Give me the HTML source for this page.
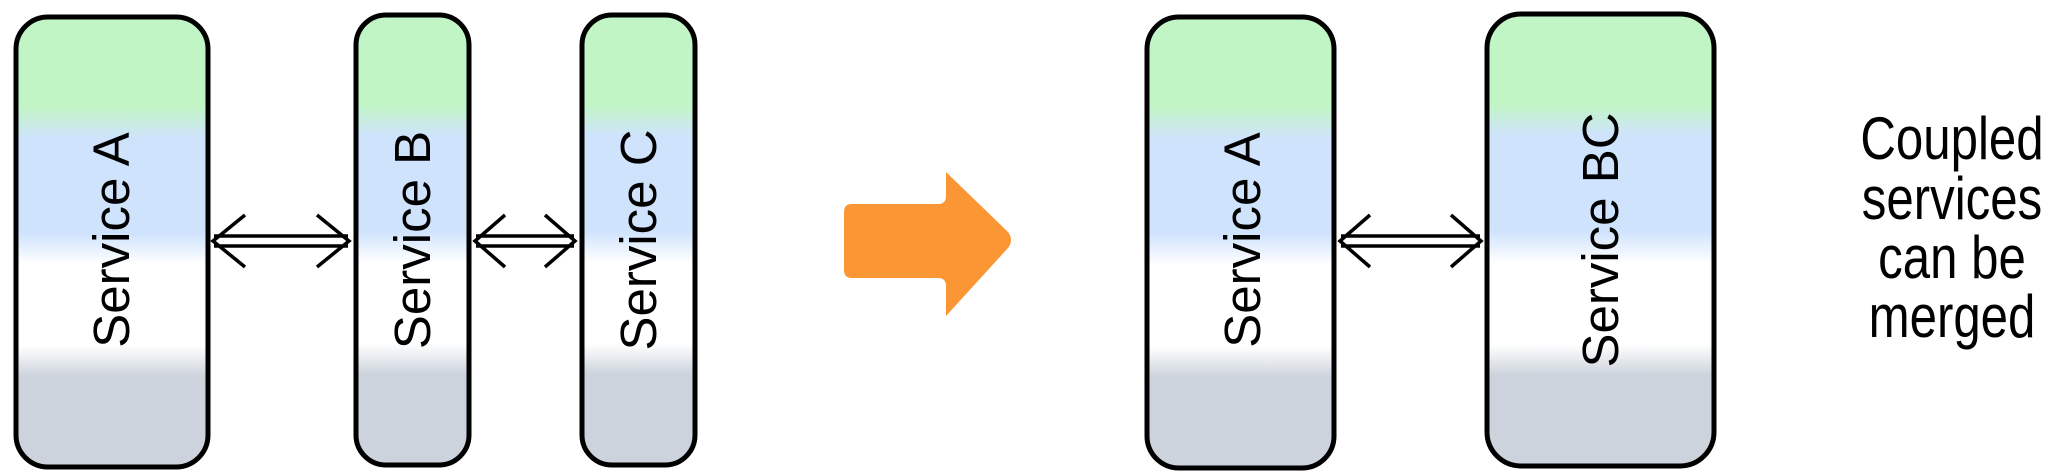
<!DOCTYPE html>
<html><head><style>body{margin:0;background:#fff}svg{display:block}</style></head><body>
<svg width="2057" height="476" viewBox="0 0 2057 476" xmlns="http://www.w3.org/2000/svg">
<defs>
<linearGradient id="g" x1="0" y1="0" x2="0" y2="1">
<stop offset="0" stop-color="#c2f5c6"/><stop offset="0.2" stop-color="#c2f5c6"/>
<stop offset="0.27" stop-color="#cfe3fd"/><stop offset="0.48" stop-color="#cfe3fd"/>
<stop offset="0.55" stop-color="#ffffff"/><stop offset="0.73" stop-color="#ffffff"/>
<stop offset="0.8" stop-color="#ccd3dc"/><stop offset="1" stop-color="#ccd3dc"/>
</linearGradient>
</defs>
<g stroke="#000" stroke-width="5" fill="url(#g)">
<rect x="16" y="17" width="192" height="450" rx="32"/>
<rect x="356" y="15" width="113" height="450" rx="30"/>
<rect x="582" y="15" width="113" height="450" rx="30"/>
<rect x="1147" y="17" width="187" height="451" rx="32"/>
<rect x="1487" y="14" width="227" height="452" rx="34"/>
</g>
<g font-family="Liberation Sans, sans-serif" font-size="51" fill="#000" text-anchor="middle">
<text transform="translate(129,240) rotate(-90)">Service A</text>
<text transform="translate(430,240) rotate(-90)">Service B</text>
<text transform="translate(656,240) rotate(-90)">Service C</text>
<text transform="translate(1260,240) rotate(-90)">Service A</text>
<text transform="translate(1618,240) rotate(-90)">Service BC</text>
</g>
<g fill="none" stroke="#000" stroke-width="3.5">
<path d="M214 236 H348 M214 246 H348 M245 215 L213 241 L245 267 M317 215 L349 241 L317 267"/>
<path d="M476 236 H574 M476 246 H574 M505 215 L475 241 L505 267 M545 215 L575 241 L545 267"/>
<path d="M1341 236 H1480 M1341 246 H1480 M1370 215 L1340 241 L1370 267 M1451 215 L1481 241 L1451 267"/>
</g>
<path d="M852 204 H938 Q946 204 946 196 V172 L1008 232 Q1014 240 1008 248 L946 316 V286 Q946 278 938 278 H852 Q844 278 844 270 V212 Q844 204 852 204 Z" fill="#fa9634"/>
<g font-family="Liberation Sans, sans-serif" font-size="60" fill="#000" text-anchor="middle" transform="translate(1952,0) scale(0.82,1)">
<text x="0" y="159">Coupled</text>
<text x="0" y="219">services</text>
<text x="0" y="278">can be</text>
<text x="0" y="337">merged</text>
</g>
</svg>
</body></html>
